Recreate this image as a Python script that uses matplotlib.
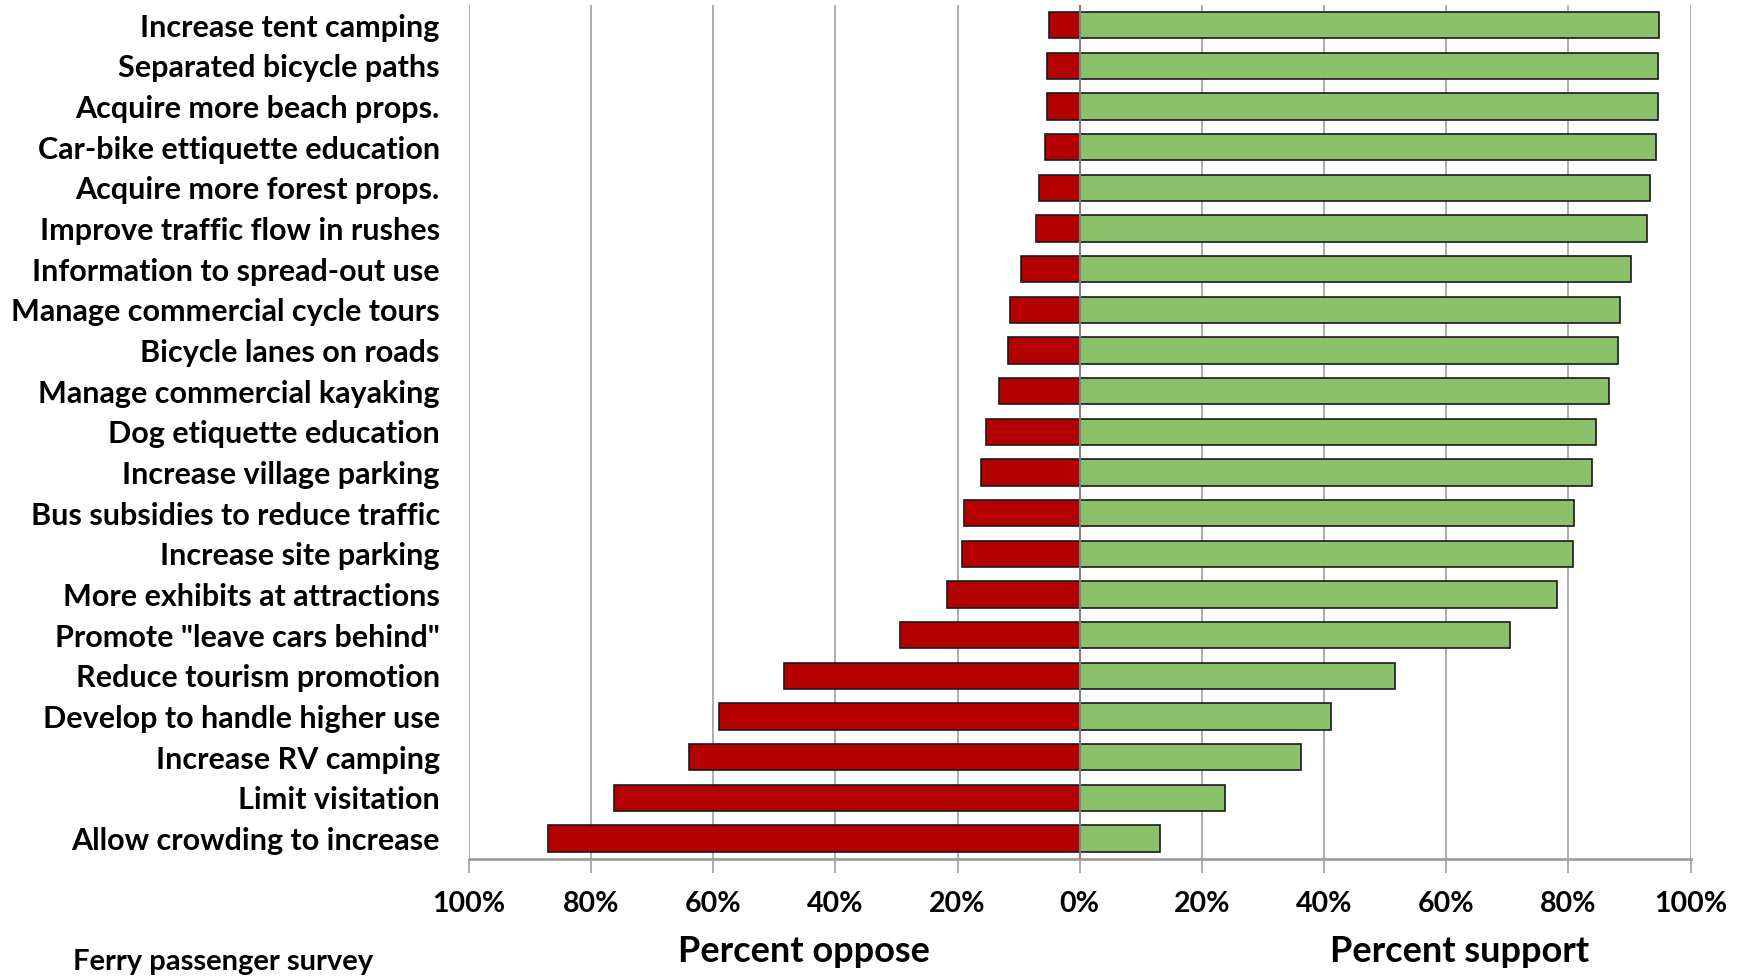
import numpy as np
import matplotlib.pyplot as plt
from matplotlib.ticker import FuncFormatter

plt.rcParams['font.family'] = ['Lato', 'DejaVu Sans']
plt.rcParams['font.weight'] = 'bold'

# categories, top to bottom
categorias = [
    "Increase tent camping",
    "Separated bicycle paths",
    "Acquire more beach props.",
    "Car-bike ettiquette education",
    "Acquire more forest props.",
    "Improve traffic flow in rushes",
    "Information to spread-out use",
    "Manage commercial cycle tours",
    "Bicycle lanes on roads",
    "Manage commercial kayaking",
    "Dog etiquette education",
    "Increase village parking",
    "Bus subsidies to reduce traffic",
    "Increase site parking",
    "More exhibits at attractions",
    "Promote \"leave cars behind\"",
    "Reduce tourism promotion",
    "Develop to handle higher use",
    "Increase RV camping",
    "Limit visitation",
    "Allow crowding to increase",
]

# percent oppose / support
oponen = [5.1, 5.4, 5.4, 5.7, 6.6, 7.2, 9.7, 11.5, 11.8, 13.3, 15.4,
          16.1, 19.0, 19.2, 21.7, 29.4, 48.5, 59.0, 63.9, 76.2, 87.0]
apoyan = [94.9, 94.6, 94.6, 94.3, 93.3, 92.8, 90.2, 88.4, 88.2, 86.6, 84.6,
          83.8, 81.0, 80.8, 78.2, 70.5, 51.6, 41.1, 36.2, 23.8, 13.1]

marcas = [-100, -80, -60, -40, -20, 0, 20, 40, 60, 80, 100]

fig = plt.figure(figsize=(17.5, 9.77), dpi=100)
ax = fig.add_axes([0.268, 0.121, 0.698, 0.874])

y = np.arange(len(categorias))
ax.barh(y, [-v for v in oponen], height=0.65, color='#B30000',
        edgecolor='#1a1a1a', linewidth=1.2, zorder=3)
ax.barh(y, apoyan, height=0.65, color='#8BC16A',
        edgecolor='#1a1a1a', linewidth=1.2, zorder=3)

ax.set_ylim(len(categorias) - 0.5, -0.5)
ax.set_xlim(-100, 100)
ax.set_yticks(y)
ax.set_yticklabels(categorias, fontsize=22, fontweight='bold')
ax.set_xticks(marcas)
ax.xaxis.set_major_formatter(FuncFormatter(lambda v, p: '%d%%' % abs(v)))
for t in ax.get_xticklabels():
    t.set_fontsize(20.5)
    t.set_fontweight('bold')

ax.tick_params(axis='y', length=0, pad=21)
ax.tick_params(axis='x', length=10, width=1.2, color='#a0a0a0', pad=13)

ax.grid(axis='x', color='#a0a0a0', linewidth=1.2, zorder=0)
ax.axvline(0, color='#808080', linewidth=1.5, zorder=4)
for lado in ['top', 'left', 'right']:
    ax.spines[lado].set_visible(False)
ax.spines['bottom'].set_color('#a0a0a0')
ax.spines['bottom'].set_linewidth(2)

fig.text(804 / 1750, 1 - 951 / 977, 'Percent oppose', fontsize=26,
         fontweight='bold', ha='center', va='center')
fig.text(1460 / 1750, 1 - 951 / 977, 'Percent support', fontsize=26,
         fontweight='bold', ha='center', va='center')
fig.text(73 / 1750, 1 - 962 / 977, 'Ferry passenger survey', fontsize=21,
         fontweight='bold', ha='left', va='center')

fig.savefig('out.png', dpi=100)
